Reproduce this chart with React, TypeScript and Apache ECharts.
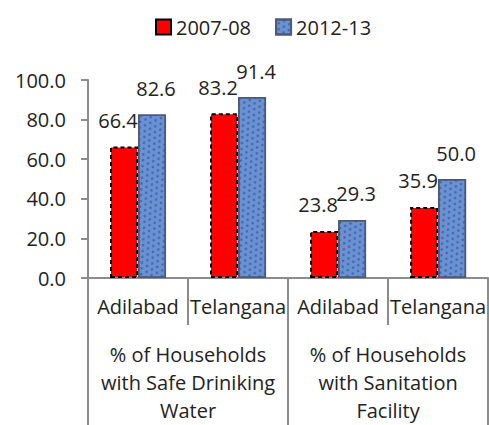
import React, { useEffect, useRef } from "react";
import * as echarts from "echarts";

const categories = ["Adilabad", "Telangana", "Adilabad", "Telangana"];
const groups = [
  "% of Households\nwith Safe Driniking\nWater",
  "% of Households\nwith Sanitation\nFacility",
];
const series2007 = [66.4, 83.2, 23.8, 35.9];
const series2012 = [82.6, 91.4, 29.3, 50.0];
const seriesNames = ["2007-08", "2012-13"];

const FONT = "Open Sans";
const FS = 20;
const AXIS = "#8c8c8c";

export default function App() {
  const ref = useRef<HTMLDivElement>(null);
  useEffect(() => {
    const chart = echarts.init(ref.current!, undefined, { renderer: "svg" });
    chart.setOption({
      animation: false,
      textStyle: { fontFamily: FONT },
      legend: {
        top: 12,
        left: 150,
        itemWidth: 15,
        itemHeight: 15,
        itemGap: 24,
        icon: "rect",
        textStyle: { fontFamily: FONT, fontSize: FS, color: "#222" },
        data: seriesNames,
      },
      grid: { left: 88, right: 0, top: 80, bottom: 147, containLabel: false },
      xAxis: [
        {
          type: "category",
          data: categories,
          axisLine: { show: true, lineStyle: { color: AXIS, width: 2 } },
          axisTick: { show: true, length: 47, lineStyle: { color: AXIS, width: 2 } },
          axisLabel: { interval: 0, margin: 18, fontSize: FS, color: "#222", fontFamily: FONT },
        },
        {
          type: "category",
          data: groups,
          position: "bottom",
          axisLine: { show: false },
          axisTick: { show: true, length: 147, lineStyle: { color: AXIS, width: 2 } },
          axisLabel: {
            interval: 0,
            margin: 62,
            fontSize: FS,
            lineHeight: 28,
            color: "#222",
            fontFamily: FONT,
          },
        },
      ],
      yAxis: {
        type: "value",
        min: 0,
        max: 100,
        interval: 20,
        axisLine: { show: true, lineStyle: { color: AXIS, width: 2 } },
        axisTick: { show: true, length: 7, lineStyle: { color: AXIS, width: 2 } },
        splitLine: { show: false },
        axisLabel: {
          margin: 22,
          fontSize: FS,
          color: "#222",
          fontFamily: FONT,
          formatter: (v: number) => v.toFixed(1),
        },
      },
      series: [
        {
          name: seriesNames[0],
          type: "bar",
          data: series2007,
          barGap: "0%",
          barCategoryGap: "44%",
          itemStyle: {
            color: "#ff0000",
            borderColor: "#000",
            borderWidth: 2,
            borderType: [4, 3],
          },
          label: {
            show: true,
            position: "top",
            distance: 16,
            offset: [-6, 0],
            fontSize: FS,
            color: "#222",
            fontFamily: FONT,
            formatter: (p: any) => p.value.toFixed(1),
          },
        },
        {
          name: seriesNames[1],
          type: "bar",
          data: series2012,
          itemStyle: {
            color: "#6a92d2",
            borderColor: "#4d5a73",
            borderWidth: 1.5,
            decal: {
              symbol: "circle",
              symbolSize: 0.8,
              color: "rgba(25,55,135,0.6)",
              dashArrayX: [
                [3, 3],
                [0, 3, 3, 0],
              ],
              dashArrayY: [3, 2],
              rotation: 0.6,
            },
          },
          label: {
            show: true,
            position: "top",
            distance: 16,
            offset: [4, 0],
            fontSize: FS,
            color: "#222",
            fontFamily: FONT,
            formatter: (p: any) => p.value.toFixed(1),
          },
        },
      ],
    });
    return () => chart.dispose();
  }, []);
  return (
    <div
      ref={ref}
      style={{ position: "fixed", left: 0, top: 0, width: 489, height: 425, background: "#fff" }}
    />
  );
}
